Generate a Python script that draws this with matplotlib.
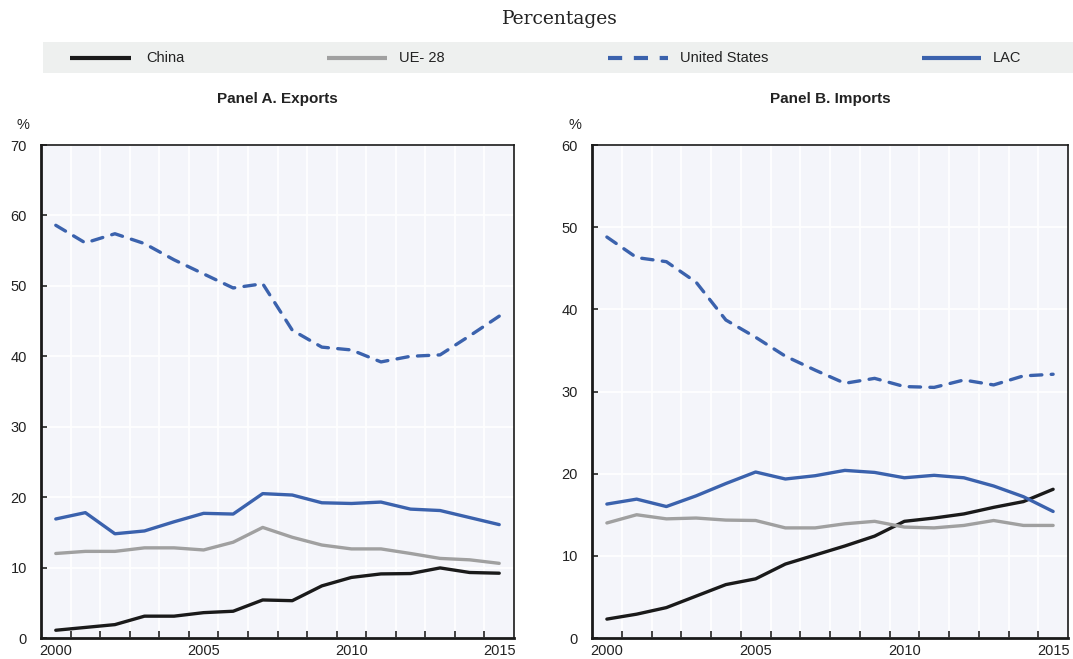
import matplotlib
matplotlib.use("Agg")
import matplotlib.pyplot as plt
from matplotlib.lines import Line2D
import numpy as np

plt.rcParams['font.family'] = ['Liberation Sans', 'DejaVu Sans']

years = list(range(2000, 2016))

# Panel A. Exports (%)
exp_china = [1.1, 1.5, 1.9, 3.1, 3.1, 3.6, 3.8, 5.4, 5.3, 7.4, 8.6, 9.1, 9.15, 9.95, 9.3, 9.2]
exp_ue28 = [12.0, 12.3, 12.3, 12.8, 12.8, 12.5, 13.6, 15.7, 14.3, 13.2, 12.65, 12.65, 12.0, 11.3, 11.1, 10.6]
exp_us = [58.6, 56.1, 57.4, 56.0, 53.7, 51.7, 49.7, 50.3, 43.7, 41.3, 40.9, 39.2, 40.0, 40.2, 42.9, 45.7]
exp_lac = [16.9, 17.8, 14.8, 15.2, 16.5, 17.7, 17.6, 20.5, 20.3, 19.2, 19.1, 19.3, 18.3, 18.1, 17.1, 16.1]

# Panel B. Imports (%)
imp_china = [2.3, 2.9, 3.7, 5.1, 6.5, 7.2, 9.0, 10.1, 11.2, 12.4, 14.2, 14.6, 15.1, 15.9, 16.6, 18.1]
imp_ue28 = [14.0, 15.0, 14.5, 14.6, 14.35, 14.3, 13.4, 13.4, 13.9, 14.2, 13.5, 13.4, 13.7, 14.3, 13.7, 13.7]
imp_us = [48.8, 46.3, 45.8, 43.3, 38.7, 36.6, 34.3, 32.6, 31.0, 31.6, 30.6, 30.5, 31.4, 30.8, 31.9, 32.1]
imp_lac = [16.3, 16.9, 16.0, 17.3, 18.8, 20.2, 19.35, 19.75, 20.4, 20.15, 19.5, 19.8, 19.5, 18.5, 17.2, 15.4]

series_names = ["China", "UE- 28", "United States", "LAC"]
xtick_labels = ["2000", "2005", "2010", "2015"]

BLACK = "#1a1a1a"
GRAY = "#a0a0a0"
BLUE = "#3b62ad"
BG = "#f4f5fa"
styles = [dict(color=BLACK, ls='-'), dict(color=GRAY, ls='-'),
          dict(color=BLUE, ls=(0, (3.4, 2.8))), dict(color=BLUE, ls='-')]

W, H = 1073, 659
fig = plt.figure(figsize=(W / 100, H / 100), dpi=100)

fig.text(560 / W, 1 - 19 / H, "Percentages", ha='center', va='center',
         fontsize=13.5, family='DejaVu Serif', color='#222222')

# legend band
lax = fig.add_axes([43 / W, 1 - 73 / H, (W - 43) / W, 31 / H])
lax.set_facecolor("#eef0ef")
lax.set_xlim(43, W)
lax.set_ylim(0, 1)
for s in lax.spines.values():
    s.set_visible(False)
lax.set_xticks([])
lax.set_yticks([])
leg_x = [(70, 131, 146), (327, 387, 399), (608, 668, 680), (922, 981, 993)]
for (x0, x1, xt), name, st in zip(leg_x, series_names, styles):
    lax.add_line(Line2D([x0, x1], [0.5, 0.5], lw=3, color=st['color'], ls=st['ls'],
                        solid_capstyle='butt', dash_capstyle='butt'))
    lax.text(xt, 0.47, name, va='center', ha='left', fontsize=10.5, color='#222222')


def make_panel(left, right, title, data, ymax, pct_x):
    ax = fig.add_axes([left / W, 1 - 638 / H, (right - left) / W, (638 - 145) / H])
    ax.set_facecolor(BG)
    for vals, st in zip(data, styles):
        ax.plot(years, vals, lw=2.4, color=st['color'], ls=st['ls'],
                solid_capstyle='round', dash_capstyle='round', zorder=3)
    ax.set_xlim(1999.5, 2015.5)
    ax.set_ylim(0, ymax)
    ax.set_xticks([2000, 2005, 2010, 2015])
    ax.set_xticklabels(xtick_labels)
    ax.set_xticks(np.arange(1999.5, 2015.6, 1.0)[1:-1], minor=True)
    ax.set_yticks(np.arange(0, ymax + 1, 10))
    ax.tick_params(axis='x', which='major', length=0, labelsize=10.5, pad=4, colors='#222222')
    ax.tick_params(axis='x', which='minor', direction='in', length=5, width=1.2, color='#222222')
    ax.tick_params(axis='y', direction='in', length=4, width=1.2, labelsize=10.5,
                   pad=10, colors='#222222')
    ax.grid(True, which='minor', axis='x', color='white', lw=1.2, zorder=0)
    ax.grid(True, which='major', axis='y', color='white', lw=1.2, zorder=0)
    for k, s in ax.spines.items():
        s.set_color('#1a1a1a')
        s.set_linewidth(2.0 if k in ('left', 'bottom') else 1.2)
    ax.set_title(title, fontsize=11, fontweight='bold', pad=0, y=1 + 42 / 493,
                 color='#222222')
    fig.text(pct_x / W, 1 - 125 / H, "%", ha='center', va='center', fontsize=10.5,
             color='#222222')
    return ax


make_panel(41, 514, "Panel A. Exports", [exp_china, exp_ue28, exp_us, exp_lac], 70, 23)
make_panel(592, 1068, "Panel B. Imports", [imp_china, imp_ue28, imp_us, imp_lac], 60, 575)

fig.savefig("out.png", dpi=100)
